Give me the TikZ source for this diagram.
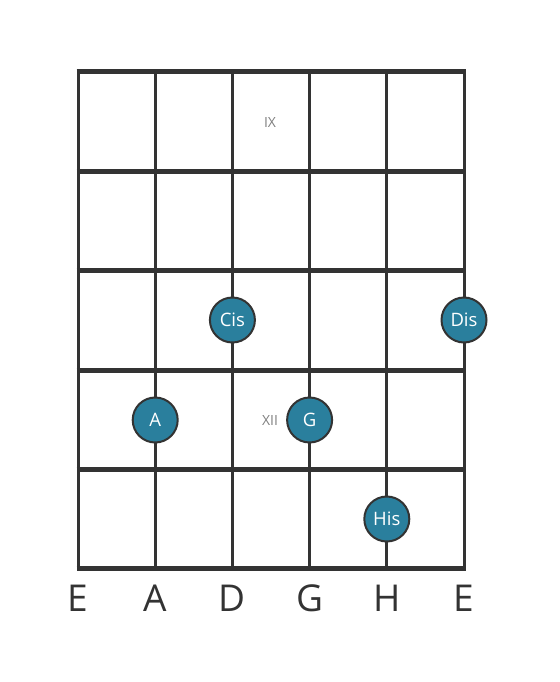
\documentclass[tikz,border=0pt]{standalone}
\usepackage{fontspec}
\setmainfont{Open Sans}
\usetikzlibrary{positioning}
\definecolor{notefill}{RGB}{42,127,157}
\definecolor{griddark}{RGB}{51,51,51}
\tikzset{
    note/.style={
        circle,
        draw=griddark,
        line width=2pt,
        fill=notefill,
        minimum size=45pt,
        inner sep=0pt,
        text=white,
        font=\fontsize{18.5}{18.5}\selectfont,
    },
    stringline/.style={
        draw=griddark,
        line width=3pt,
    },
    fretline/.style={
        draw=griddark,
        line width=5pt,
    },
    stringname/.style={
        text=griddark,
        inner sep=0pt,
        font=\fontsize{37}{37}\selectfont,
    },
    fretnum/.style={
        text=gray,
        inner sep=0pt,
        font=\fontsize{14}{14}\selectfont,
    },
    node distance=77.2pt,
}
\begin{document}
\begin{tikzpicture}[x=1pt,y=-1pt]
    \useasboundingbox (0,0) rectangle (559,682);
    % frets
    \draw[fretline] (76.5,72) -- (465.5,72);
    \draw[fretline] (76.5,171) -- (465.5,171);
    \draw[fretline] (76.5,270) -- (465.5,270);
    \draw[fretline] (76.5,370) -- (465.5,370);
    \draw[fretline] (76.5,469) -- (465.5,469);
    \draw[fretline] (76.5,568) -- (465.5,568);
    % strings
    \draw[stringline] (78,72) -- (78,568);
    \draw[stringline] (155.2,72) -- (155.2,568);
    \draw[stringline] (232.4,72) -- (232.4,568);
    \draw[stringline] (309.6,72) -- (309.6,568);
    \draw[stringline] (386.8,72) -- (386.8,568);
    \draw[stringline] (464,72) -- (464,568);
    % fret numbers
    \node [fretnum] (IX) at (270,123) {IX};
    \node [fretnum] (XII) at (270,420) {XII};
    % string names
    \node [stringname] (lowE) at (78,598) {E};
    \node [stringname, right of=lowE] (strA) {A};
    \node [stringname, right of=strA] (strD) {D};
    \node [stringname, right of=strD] (strG) {G};
    \node [stringname, right of=strG] (strH) {H};
    \node [stringname, right of=strH] (highE) {E};
    % notes
    \node [note] (Cis) at (232.4,320) {Cis};
    \node [note] (Dis) at (464,320) {Dis};
    \node [note] (A) at (155.2,420) {A};
    \node [note] (G) at (309.6,420) {G};
    \node [note] (His) at (386.8,519) {His};
\end{tikzpicture}
\end{document}
